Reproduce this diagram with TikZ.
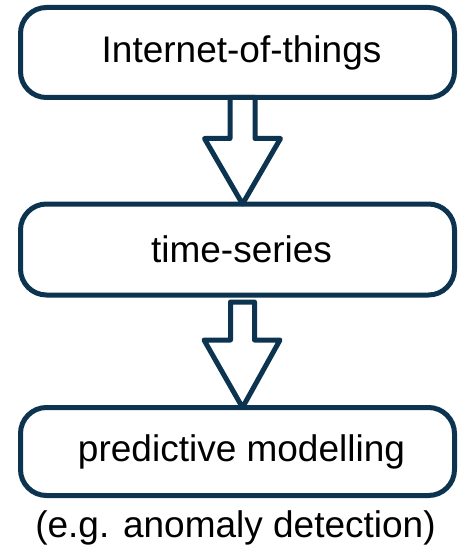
\documentclass[tikz,border=0pt]{standalone}
\usepackage{fontspec}
\setmainfont{Liberation Sans}
\usetikzlibrary{calc}
\definecolor{navy}{RGB}{12,52,80}
\tikzset{
  box/.style={draw=navy, line width=5pt, rounded corners=26pt, minimum width=434pt,
    outer sep=0pt, inner sep=0pt, font=\fontsize{37}{44}\selectfont, text=black},
  blockarrow/.style={draw=navy, fill=white, line width=5pt, line join=round}
}
\begin{document}
\begin{tikzpicture}[x=1pt,y=-1pt]
\useasboundingbox (0,0) rectangle (457,545);
\node[box, minimum height=90pt] (a) at (237.5,52.5) {\hspace*{8pt}Internet-of-things};
\node[box, minimum height=91pt] (b) at (237.5,249.5) {\hspace*{8pt}time-series};
\node[box, minimum height=88pt] (c) at (237.5,451.5) {\hspace*{8pt}predictive modelling};
\node[anchor=base, font=\fontsize{37}{44}\selectfont, inner sep=0pt] (cap) at (235.5,537) {(e.g. anomaly detection)};
\draw[blockarrow] ($(a.south)+(-7.5,0)$) -- ($(a.south)+(17.5,0)$) -- ($(a.south)+(17.5,41)$)
  -- ($(a.south)+(43,41)$) -- ($(b.north)+(5,0)$) -- ($(a.south)+(-33,41)$)
  -- ($(a.south)+(-7.5,41)$) -- cycle;
\draw[blockarrow] ($(b.south)+(-7,7)$) -- ($(b.south)+(17,7)$) -- ($(b.south)+(17,45)$)
  -- ($(b.south)+(42.5,45)$) -- ($(c.north)+(5,0)$) -- ($(b.south)+(-33.5,45)$)
  -- ($(b.south)+(-7,45)$) -- cycle;
\end{tikzpicture}
\end{document}
